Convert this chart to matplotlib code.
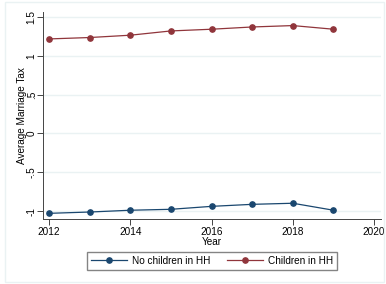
import matplotlib
matplotlib.use("Agg")
import matplotlib.pyplot as plt
from matplotlib.patches import Rectangle

plt.rcParams['font.family'] = ['Liberation Sans', 'DejaVu Sans']

# data
years = [2012, 2013, 2014, 2015, 2016, 2017, 2018, 2019]
no_children = [-1.03, -1.013, -0.99, -0.978, -0.94, -0.914, -0.90, -0.99]
children = [1.218, 1.236, 1.266, 1.321, 1.343, 1.372, 1.39, 1.343]
yticks = [-1, -0.5, 0, 0.5, 1, 1.5]
ytick_labels = ['-1', '-.5', '0', '.5', '1', '1.5']
xticks = [2012, 2014, 2016, 2018, 2020]

navy = '#1A476F'
maroon = '#90353B'
grid_col = '#EAF2F3'

fig = plt.figure(figsize=(3.86, 2.84), dpi=100)
fig.patches.append(Rectangle((5 / 386, 2 / 284), 379 / 386, 280 / 284,
                             transform=fig.transFigure, fill=False,
                             edgecolor=grid_col, linewidth=1))

ax = fig.add_axes([43 / 386, 1 - 219 / 284, 338 / 386, 207 / 284])
ax.plot(years, no_children, color=navy, lw=0.9, marker='o', ms=3.8,
        label='No children in HH')
ax.plot(years, children, color=maroon, lw=0.9, marker='o', ms=3.8,
        label='Children in HH')

ax.set_xlim(2011.85, 2020.17)
ax.set_ylim(-1.103, 1.565)
ax.set_xticks(xticks)
ax.set_yticks(yticks)
ax.set_yticklabels(ytick_labels, rotation=90, va='center')
ax.tick_params(labelsize=7.2, length=4, width=0.7, color='#444444', pad=2)
ax.tick_params(axis='y', pad=0.5)
ax.grid(axis='y', color=grid_col, lw=1)
ax.set_axisbelow(True)
for s in ['top', 'right']:
    ax.spines[s].set_visible(False)
for s in ['left', 'bottom']:
    ax.spines[s].set_color('#444444')
    ax.spines[s].set_linewidth(0.7)

ax.set_xlabel('Year', fontsize=7.2, labelpad=0)
ax.set_ylabel('Average Marriage Tax', fontsize=7.2, va='center')
ax.yaxis.set_label_coords(-21 / 338, 0.5)

fig.legend(loc='center', bbox_to_anchor=(212 / 386, 1 - 260.5 / 284), ncol=2,
           fontsize=7.2, frameon=True, fancybox=False, edgecolor='#666666',
           handlelength=3.6, columnspacing=1.6, borderpad=0.4,
           handletextpad=0.5)

plt.savefig('out.png', dpi=100)
